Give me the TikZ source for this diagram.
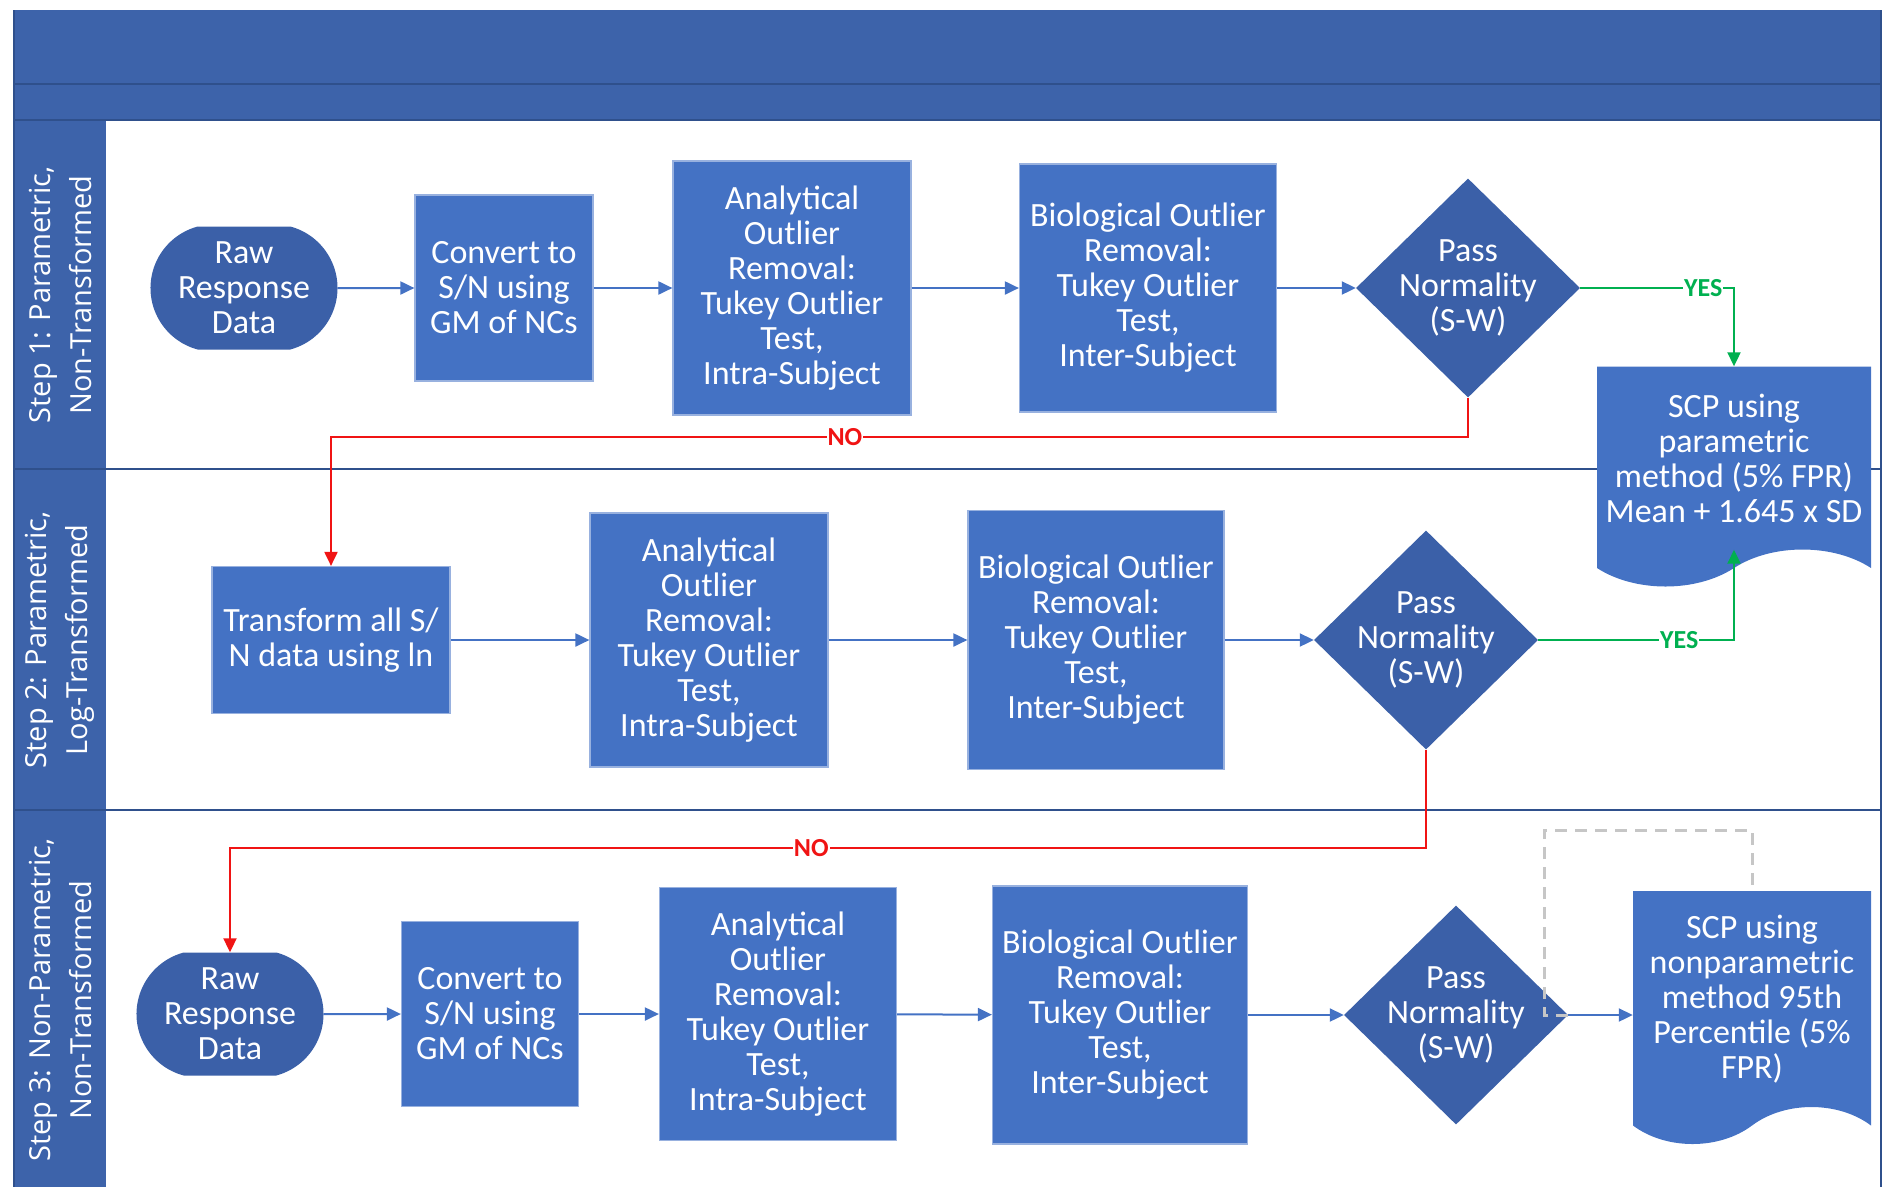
\documentclass[tikz,border=0pt]{standalone}
\usepackage{fontspec}
\setmainfont{Carlito}
\newfontfamily\lanefont{Open Sans}
\usetikzlibrary{arrows.meta, shapes.geometric, shapes.misc, shapes.symbols}
\definecolor{laneblue}{RGB}{61, 99, 170}
\definecolor{boxblue}{RGB}{68, 114, 196}
\definecolor{deepblue}{RGB}{59, 96, 168}
\definecolor{edgeblue}{RGB}{47, 80, 140}
\definecolor{noRed}{RGB}{240, 20, 20}
\definecolor{yesGreen}{RGB}{0, 176, 80}
\newcommand{\boxfont}{\fontsize{34}{35}\selectfont}

\begin{document}
\begin{tikzpicture}[x=1pt, y=-1pt,
  proc/.style={fill=boxblue, draw=boxblue!55!white, line width=1.2pt,
               text=white, font=\boxfont, align=center, inner sep=0pt},
  term/.style={rounded rectangle, rounded rectangle arc length=150,
               fill=deepblue, text=white, font=\boxfont, align=center,
               minimum width=187pt, minimum height=123pt, inner sep=0pt},
  decide/.style={diamond, fill=deepblue, minimum width=224pt,
                 minimum height=219pt, inner sep=0pt,
                 label={[text=white, font=\boxfont, align=center]center:{Pass\\Normality\\(S-W)}}},
  docu/.style={tape, tape bend top=none, tape bend bottom=in and out,
               tape bend height=37pt, fill=boxblue, text=white,
               font=\boxfont, align=center, inner sep=0pt},
  flow/.style={-{Triangle[length=14pt, width=13pt]}, boxblue, line width=2pt},
  yesline/.style={-{Triangle[length=14pt, width=13pt]}, yesGreen, line width=2pt},
  noline/.style={-{Triangle[length=14pt, width=13pt]}, noRed, line width=2pt},
  ghost/.style={gray!45, line width=3pt, dash pattern=on 12pt off 8pt},
  yeslbl/.style={font=\fontsize{26}{28}\selectfont\bfseries, text=yesGreen, fill=white, inner sep=1pt},
  nolbl/.style={font=\fontsize{26}{28}\selectfont\bfseries, text=noRed, fill=white, inner sep=1pt},
  lanelbl/.style={rotate=90, text=white, align=center,
                  font=\lanefont\fontsize{29}{41}\selectfont},
  laneline/.style={edgeblue, line width=2pt}]

  \useasboundingbox (0,0) rectangle (1887,1187);

  % swimlanes
  \fill[laneblue] (14,10) rectangle (1881,120);
  \fill[laneblue] (14,120) rectangle (106,1187);
  \draw[laneline] (14,84) -- (1881,84);
  \draw[laneline] (14,120) -- (1881,120);
  \draw[laneline] (14,469) -- (1881,469);
  \draw[laneline] (14,810) -- (1881,810);
  \draw[laneline] (1881,10) -- (1881,1187);
  \draw[laneline] (14,10) -- (14,1187);
  \node[lanelbl] (lane1) at (60,295)  {Step 1: Parametric,\\Non-Transformed};
  \node[lanelbl] (lane2) at (60,640)  {Step 2: Parametric,\\Log-Transformed};
  \node[lanelbl] (lane3) at (60,1000) {Step 3: Non-Parametric,\\Non-Transformed};

  % step 1
  \node[term] (raw1) at (244,288) {Raw\\Response\\Data};
  \node[proc, minimum width=178pt, minimum height=186pt] (conv1) at (504,288) {Convert to\\S/N using\\GM of NCs};
  \node[proc, minimum width=238pt, minimum height=254pt] (ana1) at (792,288) {Analytical\\Outlier\\Removal:\\Tukey Outlier\\Test,\\Intra-Subject};
  \node[proc, minimum width=257pt, minimum height=248pt] (bio1) at (1148,288) {Biological Outlier\\Removal:\\Tukey Outlier\\Test,\\Inter-Subject};
  \node[decide] (pn1) at (1468,288) {};
  \node[docu, minimum width=274pt, minimum height=220pt] (scp1) at (1734,458) {SCP using\\parametric\\method (5\% FPR)\\Mean + 1.645 x SD};

  % step 2
  \node[proc, minimum width=238pt, minimum height=147pt] (trans) at (331,640) {Transform all S/\\N data using ln};
  \node[proc, minimum width=238pt, minimum height=254pt] (ana2) at (709,640) {Analytical\\Outlier\\Removal:\\Tukey Outlier\\Test,\\Intra-Subject};
  \node[proc, minimum width=256pt, minimum height=259pt] (bio2) at (1096,640) {Biological Outlier\\Removal:\\Tukey Outlier\\Test,\\Inter-Subject};
  \node[decide] (pn2) at (1426,640) {};

  % step 3
  \node[term] (raw3) at (230,1014) {Raw\\Response\\Data};
  \node[proc, minimum width=177pt, minimum height=185pt] (conv3) at (490,1014) {Convert to\\S/N using\\GM of NCs};
  \node[proc, minimum width=237pt, minimum height=253pt] (ana3) at (778,1014) {Analytical\\Outlier\\Removal:\\Tukey Outlier\\Test,\\Intra-Subject};
  \node[proc, minimum width=255pt, minimum height=258pt] (bio3) at (1120,1015) {Biological Outlier\\Removal:\\Tukey Outlier\\Test,\\Inter-Subject};
  \node[decide] (pn3) at (1456,1015) {};
  \node[docu, minimum width=238pt, minimum height=253pt] (scp2) at (1752,999) {SCP using\\nonparametric\\method 95th\\Percentile (5\%\\FPR)};

  % connectors
  \draw[flow] (raw1) -- (conv1);
  \draw[flow] (conv1) -- (ana1);
  \draw[flow] (ana1) -- (bio1);
  \draw[flow] (bio1) -- (pn1);
  \draw[yesline] (pn1.east) -| node[yeslbl, pos=0.4] {YES} (scp1.north);
  \draw[noline] (pn1.south) -- ++(0,39) -| node[nolbl, pos=0.274] {NO} (trans.north);

  \draw[flow] (trans) -- (ana2);
  \draw[flow] (ana2) -- (bio2);
  \draw[flow] (bio2) -- (pn2);
  \draw[yesline] (pn2.east) -| node[yeslbl, pos=0.36] {YES} (scp1.south);
  \draw[noline] (pn2.south) -- ++(0,98) -| node[nolbl, pos=0.257] {NO} (raw3.north);

  \draw[flow] (raw3) -- (conv3);
  \draw[flow] (conv3) -- (ana3);
  \draw[flow] (ana3) -- (bio3);
  \draw[flow] (bio3) -- (pn3);
  \draw[ghost] (pn3.east) -- ++(-24,0) -- ++(0,-185) -| (scp2.north);
  \draw[flow] (pn3.east) -- (pn3.east -| scp2.west);
\end{tikzpicture}
\end{document}
